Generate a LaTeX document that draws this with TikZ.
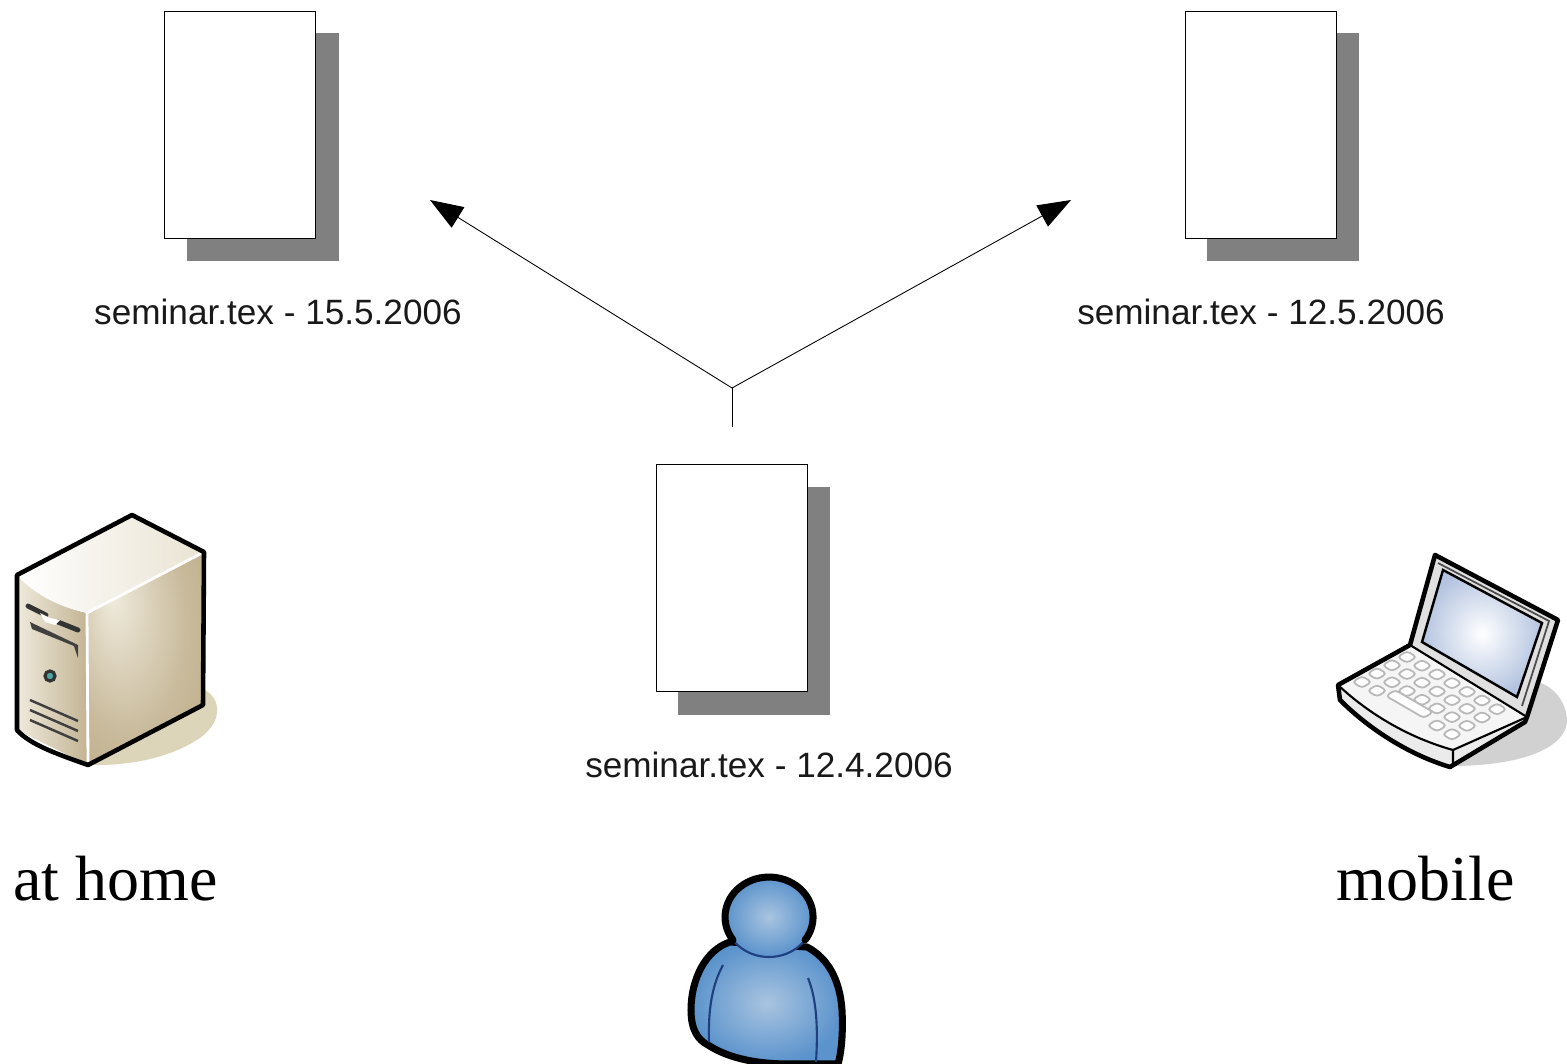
\documentclass[tikz,border=0pt]{standalone}
\usepackage{fontspec}
\setmainfont{Liberation Serif}
\newfontfamily\labelfont{Liberation Sans}
\usetikzlibrary{arrows.meta}
\definecolor{boxshadow}{HTML}{808080}
\definecolor{towertan}{HTML}{B8A680}
\definecolor{towerpale}{HTML}{EFEADC}
\definecolor{floortan}{HTML}{DDD5BA}
\definecolor{personblue}{HTML}{5B93CC}
\definecolor{personpale}{HTML}{A9C4E0}
\definecolor{personline}{HTML}{1F3F7F}
\definecolor{screenblue}{HTML}{B4C4E0}
\pgfdeclareradialshading{towerglow}{\pgfpoint{-0.5cm}{0.5cm}}{color(0cm)=(towerpale); color(0.9cm)=(towertan!70!towerpale); color(1.7cm)=(towertan); color(2cm)=(towertan)}
\tikzset{
  page/.style={draw=black,fill=white,line width=0.3pt,minimum width=1.51cm,minimum height=2.27cm,inner sep=0pt},
  pageshadow/.style={fill=boxshadow,minimum width=1.52cm,minimum height=2.28cm,inner sep=0pt},
  filelabel/.style={font=\labelfont\fontsize{10}{12}\selectfont,anchor=base,text=black!90},
  placelabel/.style={font=\fontsize{18.2}{22}\selectfont,anchor=base},
  link/.style={line width=0.25pt},
  linkhead/.style={-{Triangle[length=3.3mm,width=2.4mm]}},
  icon/.style={draw=black,line width=1.3pt,line join=round},
  keycap/.style={draw=black!28,fill=white,line width=0.5pt,rounded corners=1pt}
}
\begin{document}
\begin{tikzpicture}[x=0.01cm,y=-0.01cm]
\useasboundingbox (0,0) rectangle (1567,1064);
% pages
\node[pageshadow] at (263,147) {};
\node[pageshadow] at (1283,147) {};
\node[pageshadow] at (754,601) {};
\node[page] (newer) at (240,124.7) {};
\node[page] (older) at (1261,124.7) {};
\node[page] (original) at (732,578) {};
\node[filelabel] (newerlabel) at (278,324) {seminar.tex - 15.5.2006};
\node[filelabel] (olderlabel) at (1261,324) {seminar.tex - 12.5.2006};
\node[filelabel] (originallabel) at (769,777) {seminar.tex - 12.4.2006};
% fork
\coordinate (stem) at (732,427);
\coordinate (fork) at (732,388);
\coordinate (homeend) at (430,200);
\coordinate (mobileend) at (1071,200);
\draw[link] (stem) -- (fork);
\draw[link,linkhead] (fork) -- (homeend);
\draw[link,linkhead] (fork) -- (mobileend);
% tower
\fill[floortan] (205,690) .. controls (222,700) and (222,722) .. (200,738) .. controls (170,758) and (130,766) .. (88,765) -- cycle;
\shade[left color=towerpale,right color=towertan!85] (17,575) .. controls (35,595) and (60,607) .. (87,613) -- (88,765) -- (17,730) -- cycle;
\shade[shading=towerglow] (87,613) -- (204,552) -- (203,705) -- (88,765) -- cycle;
\shade[shading angle=60,left color=white,right color=towerpale!90!towertan] (17,575) -- (132,515) -- (204,552) -- (87,613) .. controls (60,607) and (35,595) .. (17,575) -- cycle;
\draw[white,line width=0.8pt] (87,613) -- (88,762);
\draw[white,line width=0.8pt] (87,613) -- (204,552);
\draw[icon] (17,575) -- (132,515) -- (204,552) -- (203,705) -- (88,765) .. controls (60,755) and (30,745) .. (17,730) -- cycle;
\draw[black!80,line width=1.4pt,line cap=round] (28,606) -- (46,615);
\draw[black!80,line width=1.4pt,line cap=round] (58,622) -- (78,630);
\fill[black!75] (30,622) -- (78,645) -- (78,658) -- (74,646) -- (32,629) -- cycle;
\fill[white] (40,613) -- (50,618) -- (60,620) -- (55,625) -- (45,622) -- cycle;
\node[circle,draw=black!80,fill=teal!70,line width=0.9pt,minimum size=0.1cm,inner sep=0pt] (towerbutton) at (50,676) {};
\foreach \y in {700,710,720}
  \draw[black!75,line width=0.7pt] (30,\y) -- (78,\y+21);
% laptop
\fill[black!18] (1525,680) .. controls (1550,680) and (1567,700) .. (1567,722) .. controls (1565,745) and (1530,765) .. (1455,766) -- cycle;
\fill[black!8] (1338,685) -- (1340,700) .. controls (1370,730) and (1410,755) .. (1450,767) -- (1525,722) -- (1527,717) -- cycle;
\fill[white!96!black] (1338,685) -- (1410,645) -- (1527,717) -- (1453,750) .. controls (1410,738) and (1370,715) .. (1338,685) -- cycle;
\foreach \u in {0,1,2}
  \foreach \v in {0,1,2,3,4,5,6}
    \draw[keycap,shift={(1407-\u*15+\v*15,657+\u*8.3+\v*8.7)}] (-9.5,0) -- (0,-6) -- (9.5,0) -- (0,6) -- cycle;
\foreach \v in {0,1,5,6}
  \draw[keycap,shift={(1362+\v*15,682+\v*8.7)}] (-9.5,0) -- (0,-6) -- (9.5,0) -- (0,6) -- cycle;
\draw[keycap] (1386,696) -- (1395,690) -- (1433,712) -- (1424,718) -- cycle;
\fill[black!12] (1435,555) -- (1558,620) -- (1527,717) -- (1410,645) -- cycle;
\shade[shading=radial,inner color=white,outer color=screenblue,draw=black,line width=0.7pt] (1443,570) -- (1542,623) -- (1517,697) -- (1422,642) -- cycle;
\draw[black!70,line width=0.5pt] (1438,563) -- (1549,621) -- (1522,706);
\draw[icon] (1338,685) -- (1410,645) -- (1435,555) -- (1558,620) -- (1527,717) -- (1525,722) -- (1450,767) .. controls (1410,755) and (1370,730) .. (1340,700) -- cycle;
\draw[black,line width=0.6pt] (1338,685) .. controls (1370,715) and (1410,738) .. (1453,750) -- (1453,766);
\draw[black,line width=0.6pt] (1453,750) -- (1527,717);
\draw[black,line width=0.6pt] (1410,645) -- (1527,717);
% person
\shade[icon,line width=2pt,shading=radial,inner color=personpale,outer color=personblue] (730,942) .. controls (705,950) and (691,980) .. (691,1010) .. controls (691,1030) and (698,1040) .. (708,1045) .. controls (725,1056) and (750,1064) .. (790,1064) -- (838,1064) .. controls (842,1050) and (843,1030) .. (842,1010) .. controls (840,980) and (828,958) .. (807,947) -- cycle;
\draw[personline,line width=0.6pt] (723,965) .. controls (712,985) and (708,1010) .. (709,1042);
\draw[personline,line width=0.6pt] (808,978) .. controls (817,1000) and (818,1030) .. (816,1062);
\shade[draw=personline,line width=0.6pt,shading=radial,inner color=personpale,outer color=personblue] (769,917) ellipse[x radius=44,y radius=40];
\draw[black,line width=2pt,line cap=round] (733,940) arc[start angle=145,end angle=395,x radius=44,y radius=40];
% places
\node[placelabel] (homelabel) at (115.5,900) {at home};
\node[placelabel] (mobilelabel) at (1425.5,900) {mobile};
\end{tikzpicture}
\end{document}
